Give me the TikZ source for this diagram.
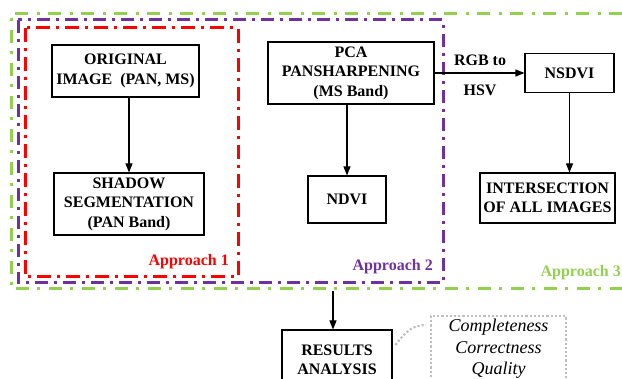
\documentclass[tikz,border=0pt]{standalone}
\usepackage{fontspec}
\setmainfont{Liberation Serif}
\usetikzlibrary{arrows.meta}

\definecolor{apred}{HTML}{FF0000}
\definecolor{appurple}{HTML}{7030A0}
\definecolor{apgreen}{HTML}{92D050}
\definecolor{notegray}{HTML}{BFBFBF}

\tikzset{
  procbox/.style={draw=black, line width=1.1pt, align=center, inner sep=0pt,
    font=\fontsize{16}{19.5}\selectfont\bfseries},
  flow/.style={draw=black, line width=1.1pt, -{Triangle[length=9pt,width=7pt]}},
  groupline/.style={line width=3pt},
  grouplabel/.style={font=\fontsize{16}{19}\selectfont\bfseries, inner sep=0pt},
  edgelabel/.style={font=\fontsize{16}{19}\selectfont\bfseries, inner sep=0pt},
  notebox/.style={draw=notegray, line width=2.2pt, dotted, align=center, inner sep=0pt,
    font=\fontsize{18}{21.5}\selectfont\itshape},
}

\begin{document}
\begin{tikzpicture}[x=1pt,y=-1pt]
\useasboundingbox (0,0) rectangle (622,379);

% approach groups (dash-dot frames)
\draw[groupline, apgreen, dash pattern=on 13pt off 8pt on 3pt off 9pt]
  (622,14) -- (11,14) -- (11,289) -- (622,289);
\draw[groupline, appurple, dash pattern=on 13pt off 6pt on 3pt off 6pt]
  (18,20) rectangle (443,283);
\draw[groupline, apred, dash pattern=on 14pt off 6pt on 3pt off 6pt]
  (25,28) rectangle (238,277);

\node[grouplabel, apred, anchor=base east] (lab1) at (229,266) {Approach 1};
\node[grouplabel, appurple, anchor=base east] (lab2) at (433,271) {Approach 2};
\node[grouplabel, apgreen, anchor=base east] (lab3) at (621,277) {Approach 3};

% process boxes
\node[procbox, minimum width=147pt, minimum height=52pt] (orig) at (125.5,71)
  {ORIGINAL\\IMAGE~~(PAN, MS)};
\node[procbox, minimum width=150pt, minimum height=62pt] (shadow) at (129,204)
  {SHADOW\\SEGMENTATION\\(PAN Band)};
\node[procbox, minimum width=166pt, minimum height=62pt] (pca) at (351,73)
  {PCA\\PANSHARPENING\\(MS Band)};
\node[procbox, minimum width=78pt, minimum height=47pt] (ndvi) at (347,199.5)
  {NDVI};
\node[procbox, minimum width=89pt, minimum height=39pt] (nsdvi) at (569.5,73)
  {NSDVI};
\node[procbox, minimum width=135pt, minimum height=50pt] (inter) at (547.5,198)
  {INTERSECTION\\OF ALL IMAGES};
\node[procbox, minimum width=110pt, minimum height=60pt] (res) at (337,360)
  {RESULTS\\ANALYSIS};

% evaluation measures
\node[notebox, minimum width=135pt, minimum height=66pt] (note) at (498.5,349)
  {Completeness\\Correctness\\Quality};

% connectors
\draw[flow] (orig.south -| shadow.north) -- (shadow.north);
\draw[flow] (pca.south -| ndvi.north) -- (ndvi.north);
\draw[flow] (pca.east) -- (nsdvi.west);
\draw[flow] (nsdvi.south) -- (nsdvi.south |- inter.north);
\coordinate (restop) at (333,291);
\draw[flow] (restop) -- (restop |- res.north);

\node[edgelabel, anchor=base] (rgb) at (480,66) {RGB to};
\node[edgelabel, anchor=base] (hsv) at (480,96) {HSV};

% callout from results to measures
\coordinate (calloutA) at ([xshift=3pt,yshift=15pt]res.east);
\coordinate (calloutB) at ([xshift=-4pt,yshift=24pt]note.west);
\draw[notegray, line width=2.2pt, dotted]
  (calloutA) .. controls (406,331) and (413,325) .. (calloutB);
\end{tikzpicture}
\end{document}
